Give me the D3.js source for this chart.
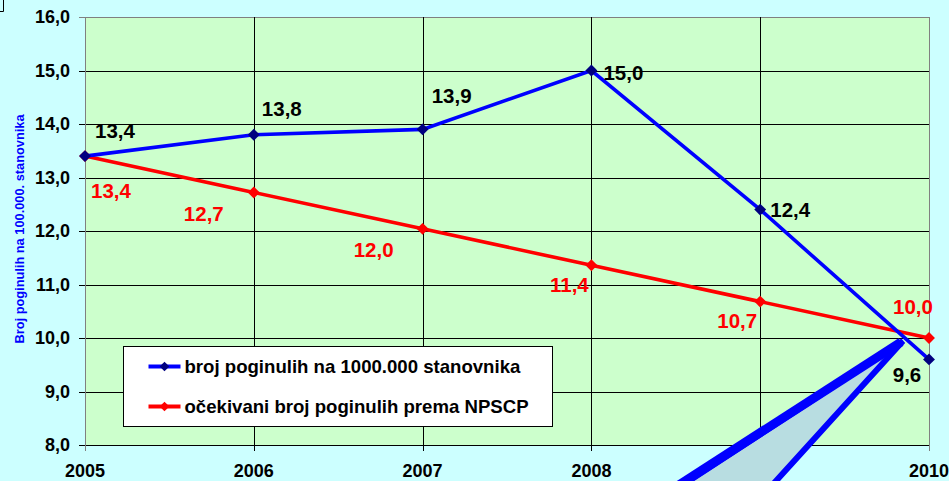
<!DOCTYPE html>
<html>
<head>
<meta charset="utf-8">
<script src="https://cdn.jsdelivr.net/npm/d3@7"></script>
<style>
  body { margin: 0; background: #ccffff; }
  svg { display: block; font-family: "Liberation Sans", Arial, sans-serif; font-weight: bold; }
</style>
</head>
<body>
<div class="chart"></div>
<script>
var years = [2005, 2006, 2007, 2008, 2009, 2010];
var actual = [13.4, 13.8, 13.9, 15.0, 12.4, 9.6];
var expected = [13.4, 12.72, 12.04, 11.36, 10.68, 10.0];
var yTicks = [8, 9, 10, 11, 12, 13, 14, 15, 16];
var seriesNames = ["broj poginulih na 1000.000 stanovnika", "očekivani broj poginulih prema NPSCP"];
var yTitle = "Broj poginulih na 100.000. stanovnika";

// label offsets (dx, dy) for each point
var blueOff = [[30, -18], [28, -19], [29, -26], [32, 9], [30, 7], [-22, 23]];
var redOff = [[26, 42], [-50, 29], [-49, 28], [-22, 27], [-23, 26], [-16, -24]];

var svgWidth = 949;
var svgHeight = 481;
var margin = {top: 17, right: 20, bottom: 36, left: 85};
var width = svgWidth - margin.left - margin.right;
var height = svgHeight - margin.top - margin.bottom;

var svg = d3.select(".chart").append("svg")
  .attr("width", svgWidth)
  .attr("height", svgHeight);

svg.append("rect").attr("width", svgWidth).attr("height", svgHeight).attr("fill", "#ccffff");
// small box fragment in the corner
svg.append("path").attr("d", "M0,11.5H3.5V0").attr("fill", "none").attr("stroke", "#000").attr("stroke-width", 1);

var chart = svg.append("g").attr("transform", "translate(" + margin.left + "," + margin.top + ")");

var x = d3.scalePoint().domain(years).range([0, width]);
var y = d3.scaleLinear().domain([8, 16]).range([height, 0]);

chart.append("rect").attr("width", width).attr("height", height).attr("fill", "#ccffcc");

// grid
chart.selectAll(".hg").data(yTicks).enter().append("line")
  .attr("x1", -6).attr("x2", width)
  .attr("y1", function(d) { return Math.round(y(d)) + 0.5; })
  .attr("y2", function(d) { return Math.round(y(d)) + 0.5; })
  .attr("stroke", function(d) { return d === 16 ? "#808080" : "#000"; })
  .attr("stroke-width", 1);

chart.selectAll(".vg").data(years).enter().append("line")
  .attr("x1", function(d) { return Math.round(x(d)) + 0.5; })
  .attr("x2", function(d) { return Math.round(x(d)) + 0.5; })
  .attr("y1", 0).attr("y2", height + 6)
  .attr("stroke", function(d, i) { return (i === 0 || i === years.length - 1) ? "#808080" : "#000"; })
  .attr("stroke-width", 1);

// axes text
chart.selectAll(".yl").data(yTicks).enter().append("text")
  .attr("x", -15).attr("y", function(d) { return y(d) + 6; })
  .attr("text-anchor", "end").attr("font-size", 18)
  .text(function(d) { return d3.format(".1f")(d).replace(".", ","); });

chart.selectAll(".xl").data(years).enter().append("text")
  .attr("x", function(d) { return x(d); }).attr("y", height + 32)
  .attr("text-anchor", "middle").attr("font-size", 18)
  .text(function(d) { return d; });

svg.append("text")
  .attr("transform", "translate(24," + (margin.top + height / 2 - 2) + ") rotate(-90)")
  .attr("text-anchor", "middle").attr("font-size", 12.8).attr("fill", "#0000ff")
  .text(yTitle);

var line = d3.line().x(function(d, i) { return x(years[i]); }).y(function(d) { return y(d); });
var diamond = d3.symbol().type(d3.symbolDiamond2).size(90);

function drawSeries(vals, color, marker, off) {
  chart.append("path").datum(vals).attr("d", line)
    .attr("fill", "none").attr("stroke", color).attr("stroke-width", 3.6);
  chart.selectAll(null).data(vals).enter().append("path")
    .attr("d", diamond)
    .attr("transform", function(d, i) { return "translate(" + x(years[i]) + "," + y(d) + ")"; })
    .attr("fill", marker);
  chart.selectAll(null).data(vals).enter().append("text")
    .attr("x", function(d, i) { return x(years[i]) + off[i][0]; })
    .attr("y", function(d, i) { return y(d) + off[i][1]; })
    .attr("text-anchor", "middle").attr("font-size", 20.5).attr("fill", color === "#ff0000" ? "#ff0000" : "#000")
    .text(function(d) { return d3.format(".1f")(d).replace(".", ","); });
}

drawSeries(expected, "#ff0000", "#ff0000", redOff);
drawSeries(actual, "#0000ff", "#000080", blueOff);

// legend
var lg = svg.append("g").attr("transform", "translate(123.5,346.5)");
lg.append("rect").attr("width", 429).attr("height", 80).attr("fill", "#fff").attr("stroke", "#000").attr("stroke-width", 1);
[["#0000ff", "#000080"], ["#ff0000", "#ff0000"]].forEach(function(c, i) {
  var yy = 20 + i * 40;
  lg.append("line").attr("x1", 25).attr("x2", 57).attr("y1", yy).attr("y2", yy).attr("stroke", c[0]).attr("stroke-width", 4);
  lg.append("path").attr("d", d3.symbol().type(d3.symbolDiamond2).size(60)).attr("transform", "translate(41," + yy + ")").attr("fill", c[1]);
  lg.append("text").attr("x", 61).attr("y", yy + 6.5).attr("font-size", 18.6).text(seriesNames[i]);
});

// callout pointer
var tip = [903, 341];
svg.append("path")
  .attr("d", "M" + tip + "L672,492L766,492Z")
  .attr("fill", "#b8dde1").attr("stroke", "#0000ff").attr("stroke-width", 6).attr("stroke-linejoin", "miter");
svg.append("line").attr("x1", tip[0] - 2).attr("y1", tip[1] + 1).attr("x2", 668).attr("y2", 492)
  .attr("stroke", "#0000ff").attr("stroke-width", 9);
</script>
</body>
</html>
